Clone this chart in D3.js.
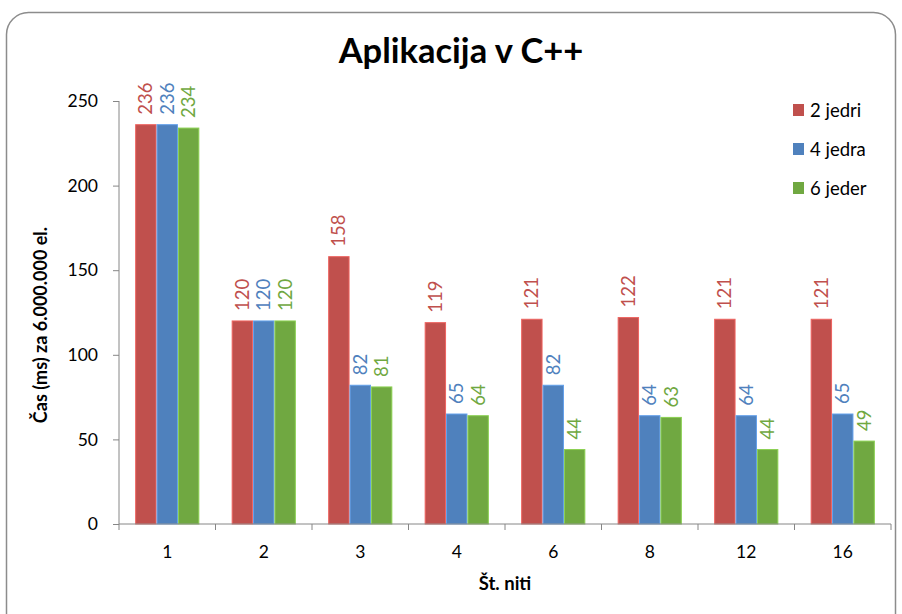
<!DOCTYPE html>
<html><head><meta charset="utf-8">
<script src="https://cdn.jsdelivr.net/npm/d3@7"></script>
<style>body{margin:0;background:#fff}svg{display:block}</style>
</head><body>
<script>
const categories = ["1","2","3","4","6","8","12","16"];
const seriesNames = ["2 jedri","4 jedra","6 jeder"];
const jedri2 = [236,120,158,119,121,122,121,121];
const jedra4 = [236,120,82,65,82,64,64,65];
const jeder6 = [234,120,81,64,44,63,44,49];
const yTicks = [0,50,100,150,200,250];
const colors = ["#C0504D","#4F81BD","#70A841"];
const series = [jedri2, jedra4, jeder6];

const W=902,H=614;
const font = "Lato, 'Open Sans', sans-serif";
const svg = d3.select("body").append("svg").attr("width",W).attr("height",H);
svg.append("rect").attr("x",6.5).attr("y",12.5).attr("width",889).attr("height",640)
  .attr("rx",22).attr("fill","#fff").attr("stroke","#8c8c8c").attr("stroke-width",1.5);

const pLeft=119,pRight=891,pTop=101,pBottom=524;
const x = d3.scaleBand().domain(categories).range([pLeft,pRight]).paddingInner(0.335).paddingOuter(0.1675);
const xs = d3.scaleBand().domain(seriesNames).range([0,x.bandwidth()]);
const y = d3.scaleLinear().domain([0,250]).range([pBottom,pTop]);

svg.append("text").attr("x",461).attr("y",63).attr("text-anchor","middle")
  .attr("font-family",font).attr("font-weight","bold").attr("font-size",34.5).text("Aplikacija v C++");

// y axis
const ya = svg.append("g").attr("transform",`translate(${pLeft},0)`)
  .call(d3.axisLeft(y).tickValues(yTicks).tickSize(6).tickPadding(15));
ya.select(".domain").attr("stroke","#868686").attr("d",`M0,${pTop}V${pBottom}`);
ya.selectAll(".tick line").attr("stroke","#868686");
ya.selectAll(".tick text").attr("font-family",font).attr("font-size",17.5).attr("fill","#000");

// bars
seriesNames.forEach((s,i)=>{
  const g = svg.append("g");
  g.selectAll("rect").data(series[i]).join("rect")
    .attr("x",(d,j)=>x(categories[j])+xs(s)+0.5)
    .attr("y",d=>y(d))
    .attr("width",xs.bandwidth()-1)
    .attr("height",d=>pBottom-y(d))
    .attr("fill",colors[i]).attr("stroke",d3.color(colors[i]).brighter(0.6)).attr("stroke-width",1);
  g.selectAll("text").data(series[i]).join("text")
    .attr("transform",(d,j)=>`translate(${x(categories[j])+xs(s)+xs.bandwidth()/2+6.5},${y(d)-10}) rotate(-90)`)
    .attr("font-family",font).attr("font-size",18.5).attr("fill",colors[i]).text(d=>d);
});

// x axis
const xa = svg.append("g").attr("transform",`translate(0,${pBottom})`)
  .call(d3.axisBottom(x).tickSize(0).tickPadding(22));
xa.select(".domain").attr("stroke","#868686").attr("d",`M${pLeft},0H${pRight}`);
xa.selectAll(".tick text").attr("font-family",font).attr("font-size",17.5).attr("fill","#000");
const step = x.step();
svg.append("g").selectAll("line").data(d3.range(categories.length+1)).join("line")
  .attr("x1",i=>pLeft+i*step).attr("x2",i=>pLeft+i*step).attr("y1",pBottom).attr("y2",pBottom+6)
  .attr("stroke","#868686");

svg.append("text").attr("x",505).attr("y",590).attr("text-anchor","middle")
  .attr("font-family",font).attr("font-weight","bold").attr("font-size",18.5).text("Št. niti");
svg.append("text").attr("transform","translate(47,325) rotate(-90)").attr("text-anchor","middle")
  .attr("font-family",font).attr("font-weight","bold").attr("font-size",18).text("Čas (ms) za 6.000.000 el.");

// legend
const lg = svg.append("g");
seriesNames.forEach((s,i)=>{
  const yy = 110+i*39;
  lg.append("rect").attr("x",793).attr("y",yy-6).attr("width",11).attr("height",12).attr("fill",colors[i]);
  lg.append("text").attr("x",810).attr("y",yy+7).attr("font-family",font).attr("font-size",18.5).text(s);
});
</script>
</body></html>
